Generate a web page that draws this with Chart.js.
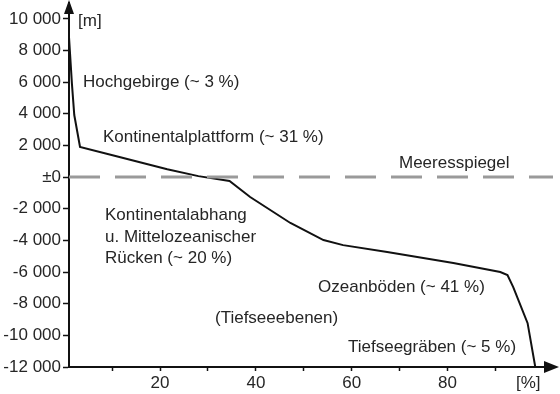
<!DOCTYPE html>
<html>
<head>
<title>Hypsometrische Kurve</title>
<script src="https://cdn.jsdelivr.net/npm/chart.js"></script>
<style>
html, body { margin: 0; padding: 0; background: #fff; }
.chart-container { position: relative; width: 560px; height: 394px; }
</style>
</head>
<body>
<div class="chart-container">
<canvas id="hypsoChart"></canvas>
</div>
<script>
// Flächenanteil [%] und Höhe [m] der Kurve
const areaPct = [1.0, 1.6, 2.1, 3.3, 10.5, 21.5, 28.0, 34.5, 38.8, 47.2, 54.1, 58.2, 67.4, 81.2, 91.0, 92.5, 93.7, 96.7, 98.3];
const heightM = [8850, 5940, 3920, 1900, 1350, 500, 60, -250, -1260, -2900, -3980, -4300, -4740, -5430, -6000, -6190, -6950, -9230, -12000];
const seaLevelX = [1, 102];
const seaLevelY = [0, 0];
const yTicks = [-12000, -10000, -8000, -6000, -4000, -2000, 0, 2000, 4000, 6000, 8000, 10000];
const xTicks = [10, 20, 30, 40, 50, 60, 70, 80, 90];
const xLabeled = [20, 40, 60, 80];
const labelTexts = [
  '[m]', 'Hochgebirge (~ 3 %)', 'Kontinentalplattform (~ 31 %)', 'Meeresspiegel',
  'Kontinentalabhang', 'u. Mittelozeanischer', 'Rücken (~ 20 %)',
  'Ozeanböden (~ 41 %)', '(Tiefseeebenen)', 'Tiefseegräben (~ 5 %)', '[%]'
];

// Pixelpositionen der Beschriftungen (links, Mitte)
const labelPos = [
  [78, 21], [83, 82], [103, 137], [399, 163],
  [105, 215], [105, 237], [105, 258],
  [318, 287], [215, 318], [348, 347], [516, 383]
];

Chart.defaults.font.family = "'Liberation Sans', Arial, sans-serif";
Chart.defaults.font.size = 17;
Chart.defaults.color = '#262626';

function fmtM(v) {
  if (v === 0) return '±0';
  const s = Math.abs(v).toString().replace(/\B(?=(\d{3})+(?!\d))/g, ' ');
  return (v < 0 ? '-' : '') + s;
}

const decor = {
  id: 'decor',
  afterDraw(chart) {
    const c = chart.ctx, a = chart.chartArea;
    c.save();
    c.fillStyle = '#111';
    // Pfeil y-Achse
    c.beginPath();
    c.moveTo(a.left, 0);
    c.lineTo(a.left - 5, 14);
    c.lineTo(a.left + 5, 14);
    c.closePath();
    c.fill();
    // Pfeil x-Achse
    c.beginPath();
    c.moveTo(559, a.bottom);
    c.lineTo(544, a.bottom - 6);
    c.lineTo(544, a.bottom + 6);
    c.closePath();
    c.fill();
    c.fillStyle = '#262626';
    c.font = "17px 'Liberation Sans', Arial, sans-serif";
    c.textBaseline = 'middle';
    labelTexts.forEach((t, i) => c.fillText(t, labelPos[i][0], labelPos[i][1]));
    c.restore();
  }
};

const ctx = document.getElementById('hypsoChart').getContext('2d');
new Chart(ctx, {
  type: 'line',
  data: {
    datasets: [{
      label: 'Meeresspiegel',
      data: seaLevelX.map((x, i) => ({ x: x, y: seaLevelY[i] })),
      borderColor: '#9a9a9a',
      borderWidth: 3,
      borderDash: [31, 15],
      pointRadius: 0
    }, {
      label: 'Höhe',
      data: areaPct.map((x, i) => ({ x: x, y: heightM[i] })),
      borderColor: '#111',
      borderWidth: 2,
      pointRadius: 0,
      tension: 0
    }]
  },
  options: {
    responsive: true,
    maintainAspectRatio: false,
    animation: false,
    layout: { padding: { top: 3, right: 7, bottom: 0, left: 0 } },
    plugins: { legend: { display: false }, tooltip: { enabled: false } },
    scales: {
      x: {
        type: 'linear',
        min: 1,
        max: 102,
        afterBuildTicks: s => { s.ticks = xTicks.map(v => ({ value: v })); },
        afterFit: s => { s.height = 27; s.paddingLeft = 0; s.paddingRight = 0; },
        grid: { drawOnChartArea: false, tickLength: 4, tickColor: '#111', tickWidth: 1.5 },
        border: { color: '#111', width: 2 },
        ticks: {
          padding: 2,
          maxRotation: 0,
          autoSkip: false,
          callback: v => xLabeled.includes(v) ? String(v) : ''
        }
      },
      y: {
        type: 'linear',
        min: -12000,
        max: 11000,
        afterBuildTicks: s => { s.ticks = yTicks.map(v => ({ value: v })); },
        afterFit: s => { s.width = 69; s.paddingTop = 0; s.paddingBottom = 0; },
        grid: { drawOnChartArea: false, tickLength: 6, tickColor: '#111', tickWidth: 1.5 },
        border: { color: '#111', width: 2 },
        ticks: { padding: 2, autoSkip: false, callback: v => fmtM(v) }
      }
    }
  },
  plugins: [decor]
});
</script>
</body>
</html>
